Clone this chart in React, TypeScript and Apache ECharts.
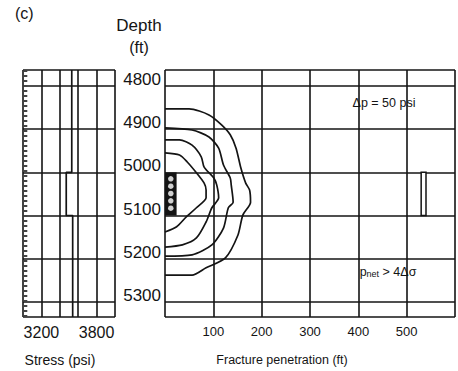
import React, { useEffect, useRef } from "react";
import * as echarts from "echarts";

// Tick labels
const depthTicks = [4800, 4900, 5000, 5100, 5200, 5300];
const stressTicks = [3200, 3800];
const penetrationTicks = [100, 200, 300, 400, 500];

// Stress profile (psi, ft)
const stressProfile: [number, number][] = [
  [3530, 4763], [3530, 5000], [3470, 5000], [3470, 5100], [3540, 5100], [3540, 5335],
];

// Fracture contours (penetration ft, depth ft)
const contourOuter: [number, number][] = [
  [0, 4853], [50, 4853], [91, 4867], [117, 4890], [135, 4913], [147, 4944], [157, 4990],
  [167, 5025], [175, 5041], [177, 5069], [161, 5099], [151, 5145], [125, 5198], [85, 5221],
  [56, 5238], [0, 5238],
];
const contourSecond: [number, number][] = [
  [0, 4897], [56, 4902], [91, 4918], [111, 4944], [121, 4983], [135, 5013], [137, 5029],
  [141, 5069], [131, 5082], [121, 5129], [97, 5168], [56, 5191], [0, 5194],
];
const contourThird: [number, number][] = [
  [0, 4925], [30, 4925], [56, 4937], [75, 4964], [81, 4988], [101, 5013], [107, 5029],
  [111, 5059], [97, 5082], [85, 5115], [65, 5152], [36, 5168], [0, 5173],
];
const contourInner: [number, number][] = [
  [0, 4955], [30, 4960], [46, 4976], [65, 5001], [81, 5025], [85, 5041], [85, 5059],
  [65, 5082], [44, 5103], [24, 5126], [0, 5138],
];

// Perforated interval and holes
const perfInterval = { x0: 0, x1: 24, top: 5000, bottom: 5100 };
const perfHoleDepths = [5015, 5032, 5049, 5066, 5083];
const perfHoleX = 12;
// Far-field marker
const farInterval = { x0: 530, x1: 540, top: 5000, bottom: 5100 };

const INK = "#141414";
const FONT = "Liberation Sans, Arial, sans-serif";

export default function App() {
  const ref = useRef<HTMLDivElement>(null);
  useEffect(() => {
    if (!ref.current) return;
    const chart = echarts.init(ref.current, undefined, { renderer: "svg" });
    const depthMin = 4763;
    const depthMax = 5335;
    const split = { show: true, lineStyle: { color: INK, width: 1.6 } };
    const contourStyle = { color: INK, width: 1.7 };
    const mkContour = (d: [number, number][]) => ({
      type: "line",
      xAxisIndex: 1,
      yAxisIndex: 1,
      data: d,
      showSymbol: false,
      smooth: 0.25,
      lineStyle: contourStyle,
      silent: true,
    });
    chart.setOption({
      animation: false,
      backgroundColor: "#ffffff",
      textStyle: { fontFamily: FONT, color: INK },
      grid: [
        { left: 23, top: 70, width: 92, height: 247 },
        { left: 165, top: 70, right: -4, height: 247 },
      ],
      xAxis: [
        {
          gridIndex: 0,
          type: "value",
          min: 3000,
          max: 4000,
          interval: 200,
          axisLine: { show: false },
          axisTick: { show: false },
          splitLine: split,
          axisLabel: {
            fontSize: 16,
            color: INK,
            margin: 7,
            fontFamily: FONT,
            formatter: (v: number) => (stressTicks.includes(v) ? String(v) : ""),
          },
        },
        {
          gridIndex: 1,
          type: "value",
          min: 0,
          max: 600,
          interval: 100,
          axisLine: { show: false },
          axisTick: { show: false },
          splitLine: split,
          axisLabel: {
            fontSize: 13,
            color: INK,
            margin: 8,
            fontFamily: FONT,
            formatter: (v: number) => (penetrationTicks.includes(v) ? String(v) : ""),
          },
        },
      ],
      yAxis: [
        {
          gridIndex: 0,
          type: "value",
          inverse: true,
          min: depthMin,
          max: depthMax,
          splitNumber: 5,
          axisLine: { show: false },
          axisTick: { show: false },
          splitLine: split,
          axisLabel: { show: false },
        },
        {
          gridIndex: 1,
          type: "value",
          inverse: true,
          min: depthMin,
          max: depthMax,
          splitNumber: 5,
          axisLine: { show: false },
          axisTick: { show: false },
          splitLine: split,
          axisLabel: {
            fontSize: 17,
            color: INK,
            margin: 4,
            fontFamily: FONT,
            verticalAlign: "bottom",
            lineHeight: 13,
            showMinLabel: false,
            showMaxLabel: false,
            formatter: (v: number) => (depthTicks.includes(v) ? String(v) : ""),
          },
        },
      ],
      series: [
        {
          type: "line",
          xAxisIndex: 0,
          yAxisIndex: 0,
          data: [[3025, depthMin], [3025, depthMax]],
          showSymbol: false,
          lineStyle: { color: "#444", width: 4, type: [2, 3] },
          silent: true,
        },
        {
          type: "line",
          xAxisIndex: 0,
          yAxisIndex: 0,
          data: stressProfile,
          showSymbol: false,
          lineStyle: { color: INK, width: 1.7 },
          silent: true,
        },
        mkContour(contourOuter),
        mkContour(contourSecond),
        mkContour(contourThird),
        mkContour(contourInner),
        {
          type: "line",
          xAxisIndex: 1,
          yAxisIndex: 1,
          data: [],
          silent: true,
          markArea: {
            silent: true,
            data: [
              [
                { xAxis: perfInterval.x0, yAxis: perfInterval.top, itemStyle: { color: INK } },
                { xAxis: perfInterval.x1, yAxis: perfInterval.bottom },
              ],
              [
                {
                  xAxis: farInterval.x0,
                  yAxis: farInterval.top,
                  itemStyle: { color: "#ffffff", borderColor: INK, borderWidth: 1.5 },
                },
                { xAxis: farInterval.x1, yAxis: farInterval.bottom },
              ],
            ],
          },
        },
        {
          type: "scatter",
          xAxisIndex: 1,
          yAxisIndex: 1,
          data: perfHoleDepths.map((d) => [perfHoleX, d]),
          symbol: "circle",
          symbolSize: 5.5,
          itemStyle: { color: "#ffffff" },
          silent: true,
          z: 5,
        },
      ],
      graphic: [
        { type: "text", left: 15, top: 5, style: { text: "(c)", font: `16px ${FONT}`, fill: INK } },
        { type: "text", x: 139, y: 25, style: { text: "Depth", font: `17px ${FONT}`, fill: INK, align: "center", verticalAlign: "middle" } },
        { type: "text", x: 139, y: 47, style: { text: "(ft)", font: `16px ${FONT}`, fill: INK, align: "center", verticalAlign: "middle" } },
        { type: "text", x: 60, y: 360, style: { text: "Stress (psi)", font: `14px ${FONT}`, fill: INK, align: "center", verticalAlign: "middle" } },
        { type: "text", x: 282, y: 360, style: { text: "Fracture penetration (ft)", font: `12.5px ${FONT}`, fill: INK, align: "center", verticalAlign: "middle" } },
        { type: "text", x: 384, y: 103, style: { text: "Δp = 50 psi", font: `12.5px ${FONT}`, fill: INK, align: "center", verticalAlign: "middle" } },
        {
          type: "text",
          x: 388,
          y: 272,
          style: {
            text: "{a|p}{b|net}{a| > 4Δσ}",
            align: "center",
            verticalAlign: "middle",
            rich: {
              a: { fontSize: 12.5, fontFamily: FONT, fill: INK, color: INK },
              b: { fontSize: 9, fontFamily: FONT, fill: INK, color: INK, verticalAlign: "bottom", padding: [4, 0, 0, 0] },
            },
          },
        },
      ],
    });
    return () => chart.dispose();
  }, []);
  return (
    <div
      ref={ref}
      style={{ position: "fixed", left: 0, top: 0, width: 458, height: 371, background: "#fff" }}
    />
  );
}
